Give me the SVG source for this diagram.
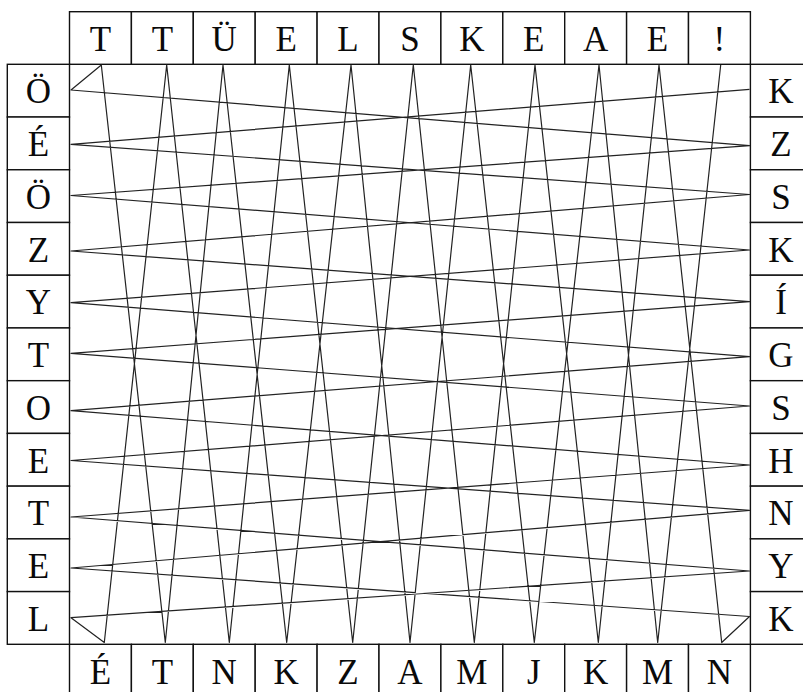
<svg xmlns="http://www.w3.org/2000/svg" width="803" height="692" viewBox="0 0 803 692">
<style>
.c{fill:#fff;stroke:#111;stroke-width:1.4}
.t{font-family:"Liberation Serif","Times New Roman",serif;font-size:35px;fill:#0a0a0a;text-anchor:middle}
.ln{fill:none;stroke:#222;stroke-width:1.2;stroke-linejoin:round}
</style>
<rect width="803" height="692" fill="#fff"/>
<g id="top-row">
<g id="top-1"><rect class="c" x="69.5" y="11.7" width="61.9" height="52.6"/><text class="t" x="100.45" y="50.7">T</text></g>
<g id="top-2"><rect class="c" x="131.4" y="11.7" width="61.9" height="52.6"/><text class="t" x="162.35" y="50.7">T</text></g>
<g id="top-3"><rect class="c" x="193.3" y="11.7" width="61.9" height="52.6"/><text class="t" x="224.25" y="50.7">Ü</text></g>
<g id="top-4"><rect class="c" x="255.2" y="11.7" width="61.9" height="52.6"/><text class="t" x="286.15" y="50.7">E</text></g>
<g id="top-5"><rect class="c" x="317.1" y="11.7" width="61.9" height="52.6"/><text class="t" x="348.05" y="50.7">L</text></g>
<g id="top-6"><rect class="c" x="379" y="11.7" width="61.9" height="52.6"/><text class="t" x="409.95" y="50.7">S</text></g>
<g id="top-7"><rect class="c" x="440.9" y="11.7" width="61.9" height="52.6"/><text class="t" x="471.85" y="50.7">K</text></g>
<g id="top-8"><rect class="c" x="502.8" y="11.7" width="61.9" height="52.6"/><text class="t" x="533.75" y="50.7">E</text></g>
<g id="top-9"><rect class="c" x="564.7" y="11.7" width="61.9" height="52.6"/><text class="t" x="595.65" y="50.7">A</text></g>
<g id="top-10"><rect class="c" x="626.6" y="11.7" width="61.9" height="52.6"/><text class="t" x="657.55" y="50.7">E</text></g>
<g id="top-11"><rect class="c" x="688.5" y="11.7" width="61.9" height="52.6"/><text class="t" x="719.45" y="50.7">!</text></g>
</g>
<g id="bottom-row">
<g id="bottom-1"><rect class="c" x="69.5" y="644.3" width="61.9" height="53"/><text class="t" x="100.45" y="683.7">É</text></g>
<g id="bottom-2"><rect class="c" x="131.4" y="644.3" width="61.9" height="53"/><text class="t" x="162.35" y="683.7">T</text></g>
<g id="bottom-3"><rect class="c" x="193.3" y="644.3" width="61.9" height="53"/><text class="t" x="224.25" y="683.7">N</text></g>
<g id="bottom-4"><rect class="c" x="255.2" y="644.3" width="61.9" height="53"/><text class="t" x="286.15" y="683.7">K</text></g>
<g id="bottom-5"><rect class="c" x="317.1" y="644.3" width="61.9" height="53"/><text class="t" x="348.05" y="683.7">Z</text></g>
<g id="bottom-6"><rect class="c" x="379" y="644.3" width="61.9" height="53"/><text class="t" x="409.95" y="683.7">A</text></g>
<g id="bottom-7"><rect class="c" x="440.9" y="644.3" width="61.9" height="53"/><text class="t" x="471.85" y="683.7">M</text></g>
<g id="bottom-8"><rect class="c" x="502.8" y="644.3" width="61.9" height="53"/><text class="t" x="533.75" y="683.7">J</text></g>
<g id="bottom-9"><rect class="c" x="564.7" y="644.3" width="61.9" height="53"/><text class="t" x="595.65" y="683.7">K</text></g>
<g id="bottom-10"><rect class="c" x="626.6" y="644.3" width="61.9" height="53"/><text class="t" x="657.55" y="683.7">M</text></g>
<g id="bottom-11"><rect class="c" x="688.5" y="644.3" width="61.9" height="53"/><text class="t" x="719.45" y="683.7">N</text></g>
</g>
<g id="left-col">
<g id="left-1"><rect class="c" x="7.3" y="64.3" width="62.2" height="52.73"/><text class="t" x="38.4" y="103.4">Ö</text></g>
<g id="left-2"><rect class="c" x="7.3" y="117.03" width="62.2" height="52.73"/><text class="t" x="38.4" y="156.1">É</text></g>
<g id="left-3"><rect class="c" x="7.3" y="169.76" width="62.2" height="52.73"/><text class="t" x="38.4" y="208.8">Ö</text></g>
<g id="left-4"><rect class="c" x="7.3" y="222.49" width="62.2" height="52.73"/><text class="t" x="38.4" y="261.6">Z</text></g>
<g id="left-5"><rect class="c" x="7.3" y="275.22" width="62.2" height="52.73"/><text class="t" x="38.4" y="314.3">Y</text></g>
<g id="left-6"><rect class="c" x="7.3" y="327.95" width="62.2" height="52.73"/><text class="t" x="38.4" y="367">T</text></g>
<g id="left-7"><rect class="c" x="7.3" y="380.68" width="62.2" height="52.73"/><text class="t" x="38.4" y="419.8">O</text></g>
<g id="left-8"><rect class="c" x="7.3" y="433.41" width="62.2" height="52.73"/><text class="t" x="38.4" y="472.5">E</text></g>
<g id="left-9"><rect class="c" x="7.3" y="486.14" width="62.2" height="52.73"/><text class="t" x="38.4" y="525.2">T</text></g>
<g id="left-10"><rect class="c" x="7.3" y="538.87" width="62.2" height="52.73"/><text class="t" x="38.4" y="578">E</text></g>
<g id="left-11"><rect class="c" x="7.3" y="591.6" width="62.2" height="52.7"/><text class="t" x="38.4" y="630.7">L</text></g>
</g>
<g id="right-col">
<g id="right-1"><rect class="c" x="750.4" y="64.3" width="62" height="52.73"/><text class="t" x="781" y="103.4">K</text></g>
<g id="right-2"><rect class="c" x="750.4" y="117.03" width="62" height="52.73"/><text class="t" x="781" y="156.1">Z</text></g>
<g id="right-3"><rect class="c" x="750.4" y="169.76" width="62" height="52.73"/><text class="t" x="781" y="208.8">S</text></g>
<g id="right-4"><rect class="c" x="750.4" y="222.49" width="62" height="52.73"/><text class="t" x="781" y="261.6">K</text></g>
<g id="right-5"><rect class="c" x="750.4" y="275.22" width="62" height="52.73"/><text class="t" x="781" y="314.3">Í</text></g>
<g id="right-6"><rect class="c" x="750.4" y="327.95" width="62" height="52.73"/><text class="t" x="781" y="367">G</text></g>
<g id="right-7"><rect class="c" x="750.4" y="380.68" width="62" height="52.73"/><text class="t" x="781" y="419.8">S</text></g>
<g id="right-8"><rect class="c" x="750.4" y="433.41" width="62" height="52.73"/><text class="t" x="781" y="472.5">H</text></g>
<g id="right-9"><rect class="c" x="750.4" y="486.14" width="62" height="52.73"/><text class="t" x="781" y="525.2">N</text></g>
<g id="right-10"><rect class="c" x="750.4" y="538.87" width="62" height="52.73"/><text class="t" x="781" y="578">Y</text></g>
<g id="right-11"><rect class="c" x="750.4" y="591.6" width="62" height="52.7"/><text class="t" x="781" y="630.7">K</text></g>
</g>
<g id="connectors">
<polyline class="ln" points="749.5,89.3 71,144.3 749.5,194.5 71,251 749.5,301.7 71,353.3 749.5,406 71,460.5 749.5,510.3 71,568 749.5,616.5 721.7,642.5 659,65 598.3,642.5 535,65 474.3,642.5 413.3,65 352.7,642.5 289.3,65 229.3,642.5 166.7,65 104.3,642.5 71,617.7 749.5,571 71,517 749.5,465 71,410.7 749.5,356.7 71,302.7 749.5,250 71,195.5 749.5,145.7 71,90 101.3,65 165.3,642.5 223,65 286.7,642.5 351,65 410,642.5 470.7,65 534.3,642.5 599,65 657.7,642.5 720.7,65"/>
</g>
</svg>
